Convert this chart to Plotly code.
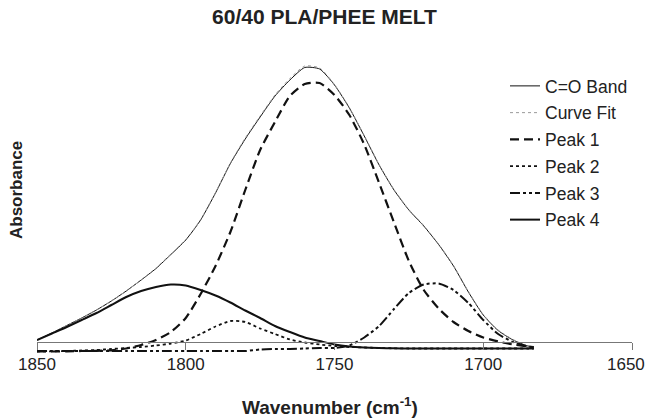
import plotly.graph_objects as go

# Wavenumber grid (cm^-1)
wavenumber = [1850, 1845, 1840, 1835, 1830, 1825, 1820, 1815, 1810, 1805,
              1800, 1795, 1790, 1785, 1780, 1775, 1770, 1765, 1760, 1755,
              1750, 1745, 1740, 1735, 1730, 1725, 1720, 1715, 1710, 1705,
              1700, 1695, 1690, 1685, 1683]

co_band = [0.004, 0.018, 0.033, 0.048, 0.064, 0.082, 0.102, 0.124, 0.147, 0.175,
           0.204, 0.244, 0.298, 0.357, 0.406, 0.450, 0.492, 0.524, 0.549, 0.546,
           0.514, 0.468, 0.412, 0.354, 0.304, 0.264, 0.232, 0.195, 0.152, 0.100,
           0.054, 0.023, 0.004, -0.008, -0.009]

curve_fit = [0.004, 0.018, 0.033, 0.048, 0.064, 0.082, 0.102, 0.124, 0.148, 0.176,
             0.205, 0.245, 0.299, 0.358, 0.408, 0.452, 0.494, 0.527, 0.552, 0.548,
             0.515, 0.469, 0.413, 0.355, 0.305, 0.265, 0.233, 0.196, 0.153, 0.101,
             0.055, 0.024, 0.005, -0.008, -0.009]

peak1 = [-0.019, -0.019, -0.0186, -0.018, -0.0176, -0.0166, -0.013, -0.006, 0.004, 0.020,
         0.048, 0.096, 0.152, 0.220, 0.304, 0.384, 0.440, 0.492, 0.516, 0.518,
         0.494, 0.454, 0.395, 0.318, 0.239, 0.162, 0.104, 0.067, 0.040, 0.022,
         0.009, 0.001, -0.005, -0.009, -0.011]

peak2 = [-0.019, -0.0186, -0.018, -0.017, -0.016, -0.014, -0.012, -0.010, -0.007, -0.003,
         0.003, 0.016, 0.031, 0.042, 0.040, 0.027, 0.016, 0.005, -0.001, -0.005,
         -0.008, -0.010, -0.011, -0.012, -0.0126, -0.013, -0.013, -0.013, -0.013, -0.013,
         -0.013, -0.013, -0.013, -0.013, -0.013]

peak3 = [-0.018, -0.018, -0.018, -0.018, -0.018, -0.018, -0.018, -0.018, -0.018, -0.018,
         -0.018, -0.018, -0.018, -0.018, -0.018, -0.015, -0.014, -0.014, -0.013, -0.012,
         -0.012, -0.007, 0.009, 0.032, 0.066, 0.098, 0.115, 0.117, 0.104, 0.078,
         0.044, 0.016, 0.000, -0.009, -0.011]

peak4 = [0.004, 0.017, 0.030, 0.044, 0.058, 0.074, 0.090, 0.102, 0.110, 0.115,
         0.113, 0.104, 0.093, 0.079, 0.063, 0.048, 0.032, 0.020, 0.009, 0.002,
         -0.005, -0.009, -0.011, -0.012, -0.0126, -0.013, -0.013, -0.013, -0.013, -0.013,
         -0.013, -0.013, -0.013, -0.013, -0.013]

series_names = ["C=O Band", "Curve Fit", "Peak 1", "Peak 2", "Peak 3", "Peak 4"]
x_ticks = [1850, 1800, 1750, 1700, 1650]

FONT = "Liberation Sans, Arial, sans-serif"

styles = [
    dict(color="#111111", width=1, dash="solid"),
    dict(color="#9a9a9a", width=1, dash="dot"),
    dict(color="#111111", width=2.2, dash="9px,5px"),
    dict(color="#111111", width=1.8, dash="3px,3px"),
    dict(color="#111111", width=2, dash="10px,3px,3px,3px,3px,3px"),
    dict(color="#111111", width=2, dash="solid"),
]

fig = go.Figure()
for i, (name, ys) in enumerate(zip(series_names,
                                   [co_band, curve_fit, peak1, peak2, peak3, peak4])):
    fig.add_trace(go.Scatter(
        x=wavenumber, y=ys, mode="lines", name=name,
        line=dict(shape="spline", smoothing=0.6, **styles[i]),
        legendgroup=name,
    ))

W, H = 649, 419
L, R, T, B = 37, 17, 50, 64
plot_w = W - L - R
plot_h = H - T - B
y0_px = 342  # pixel of y = 0 line
axis_pos = (H - B - y0_px) / plot_h

# last tick label would overflow the page edge: label it with a right-aligned annotation
tick_text = [str(v) for v in x_ticks[:-1]] + [""]

fig.update_layout(
    width=W, height=H,
    margin=dict(l=L, r=R, t=T, b=B, autoexpand=False),
    paper_bgcolor="white", plot_bgcolor="white",
    font=dict(family=FONT, size=17, color="#222222"),
    title=dict(text="<b>60/40 PLA/PHEE MELT</b>", x=0.5, xanchor="center",
               y=1 - 17 / H, yanchor="middle",
               font=dict(family=FONT, size=21, color="#222222")),
    showlegend=True,
    legend=dict(x=(505 - L) / plot_w, y=(H - B - 68) / plot_h,
                xanchor="left", yanchor="top",
                bgcolor="rgba(0,0,0,0)", font=dict(size=17.5),
                tracegroupgap=1, traceorder="grouped"),
    xaxis=dict(range=[1850, 1650], tickvals=x_ticks, ticktext=tick_text,
               showgrid=False, zeroline=False, showline=True, linecolor="#777777",
               linewidth=1, ticks="outside", ticklen=7, tickcolor="#777777",
               anchor="free", position=axis_pos, automargin=False,
               tickfont=dict(size=17, color="#222222")),
    yaxis=dict(range=[(y0_px - (H - B)) * 0.002, (y0_px - T) * 0.002],
               visible=False, showgrid=False, zeroline=False, automargin=False),
    annotations=[
        dict(text=str(x_ticks[-1]), xref="paper", yref="paper",
             x=(647 - L) / plot_w, y=(H - B - 364) / plot_h,
             xanchor="right", yanchor="middle", showarrow=False,
             font=dict(family=FONT, size=17, color="#222222")),
        dict(text="<b>Wavenumber (cm<sup>-1</sup>)</b>", xref="paper", yref="paper",
             x=(330 - L) / plot_w,
             y=(H - B - 406) / plot_h, xanchor="center", yanchor="middle",
             showarrow=False, font=dict(family=FONT, size=19, color="#222222")),
        dict(text="<b>Absorbance</b>", xref="paper", yref="paper",
             x=(16 - L) / plot_w, y=(H - B - 190) / plot_h,
             xanchor="center", yanchor="middle", textangle=-90,
             showarrow=False, font=dict(family=FONT, size=17, color="#222222")),
    ],
)

fig.write_html("out.html", config={"displayModeBar": False},
               post_script="document.body.style.margin='0';document.body.style.padding='0';")
